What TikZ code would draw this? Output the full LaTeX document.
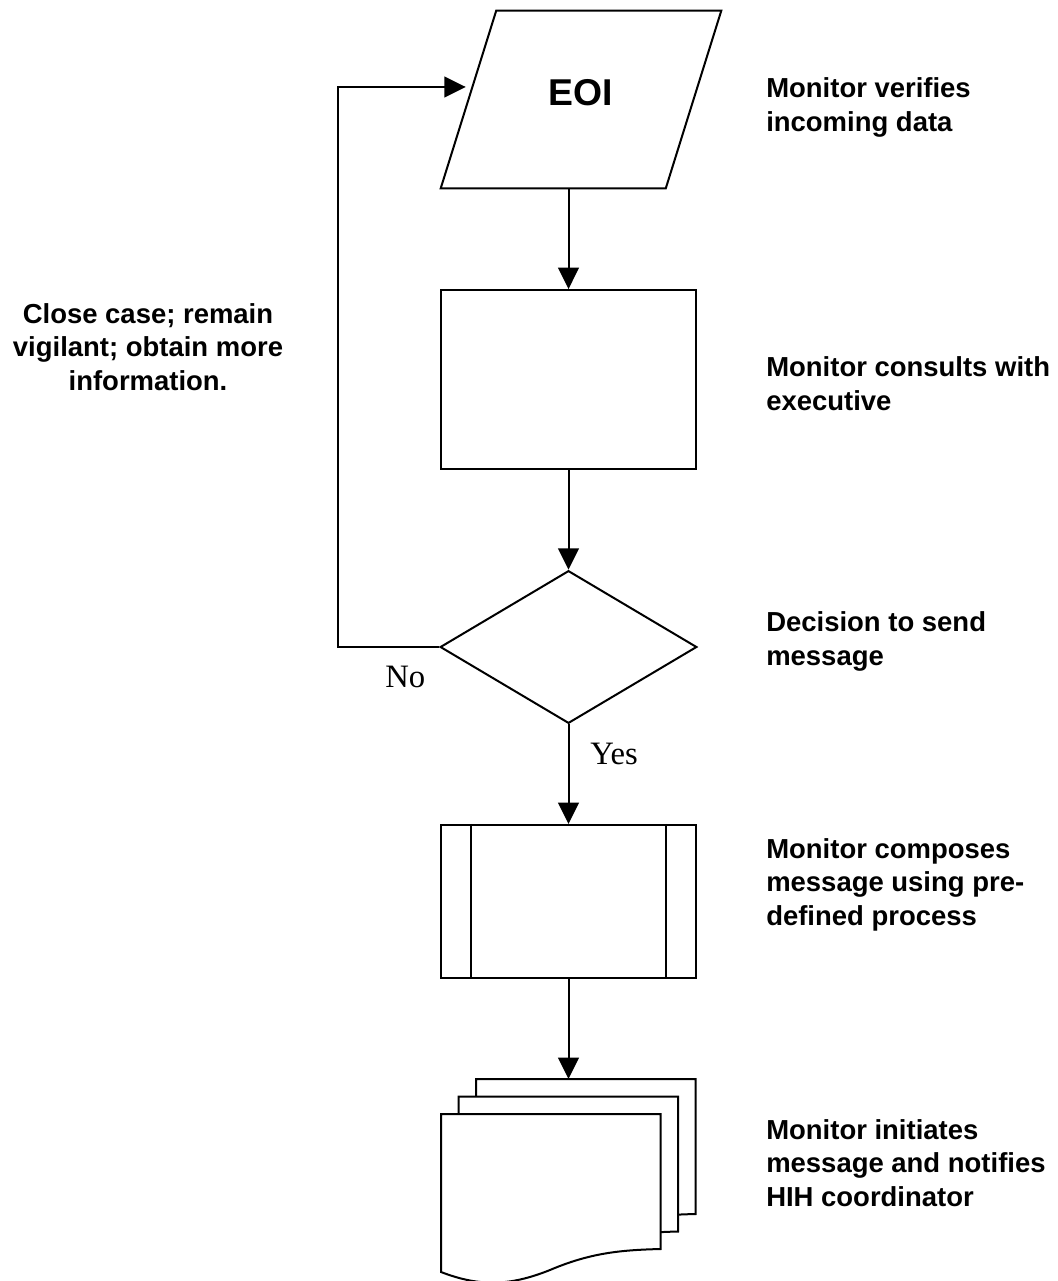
\documentclass[tikz,border=0pt]{standalone}
\usepackage{fontspec}
\setmainfont{Liberation Serif}
\setsansfont{Liberation Sans}
\usetikzlibrary{shapes.geometric,arrows.meta}

\tikzset{
  box/.style={draw, line width=1.5pt, inner sep=0pt},
  link/.style={->, line width=1.5pt},
  note/.style={font=\sffamily\bfseries\fontsize{20.6}{25}\selectfont, align=left, anchor=base west, inner sep=0pt},
  answer/.style={font=\fontsize{24.5}{28}\selectfont, anchor=base west, inner sep=0pt},
}

\begin{document}
\begin{tikzpicture}[>={Triangle[length=16pt,width=15.5pt]}, x=0.75pt, y=-0.75pt]
    \useasboundingbox (0,0) rectangle (1057,1281);

    % Formen
    \node[inner sep=0pt, minimum width=210pt, minimum height=132.75pt,
        font=\sffamily\bfseries\fontsize{28}{34}\selectfont, text depth=11pt] (eoi) at (581,99.5) {EOI};
    \draw[line width=1.5pt] ([xshift=41.6pt]eoi.north west) -- (eoi.north east)
        -- ([xshift=-41.6pt]eoi.south east) -- (eoi.south west) -- cycle;
    \node[box, minimum width=191.25pt, minimum height=134pt] (consult) at (568.5,379.4) {};
    \node[box, diamond, minimum width=192.5pt, minimum height=114.5pt] (decide) at (568.5,647) {};
    \node[box, minimum width=191.25pt, minimum height=114.5pt] (compose) at (568.5,901.3) {};
    \draw[line width=1.5pt] ([xshift=23.25pt]compose.north west) -- ([xshift=23.25pt]compose.south west)
        ([xshift=-23.25pt]compose.north east) -- ([xshift=-23.25pt]compose.south east);

    % Mehrfachdokument
    \coordinate (notify) at (568.5,1079);
    \foreach \d in {35,17.5,0}
        \filldraw[fill=white, line width=1.5pt, shift={(\d,-\d)}] (441,1114) -- (660.7,1114) -- (660.7,1249)
            .. controls (620,1250) and (590,1253) .. (550,1270)
            .. controls (510,1286) and (480,1287) .. (441,1272) -- cycle;

    % Pfeile
    \draw[link] (eoi.south -| consult.north) -- (consult);
    \draw[link] (consult) -- (decide);
    \draw[link] (decide) -- (compose);
    \draw[link] (compose) -- (notify);
    \draw[link] (decide.west) -- ++(-101,0) |- ([shift={(18.75pt,9.4pt)}]eoi.west);

    % Beschriftungen
    \node[answer] (no) at (385,687.7) {No};
    \node[answer] (yes) at (590,764) {Yes};
    \node[note] (verify) at (766,131) {Monitor verifies\\incoming data};
    \node[note] (consultlab) at (766,410) {Monitor consults with\\executive};
    \node[note] (decidelab) at (766,665) {Decision to send\\message};
    \node[note] (composelab) at (766,925) {Monitor composes\\message using pre-\\defined process};
    \node[note] (notifylab) at (766,1206) {Monitor initiates\\message and notifies\\HIH coordinator};
    \node[note, align=center, anchor=base] (close) at (148,390) {Close case; remain\\vigilant; obtain more\\information.};
\end{tikzpicture}
\end{document}
